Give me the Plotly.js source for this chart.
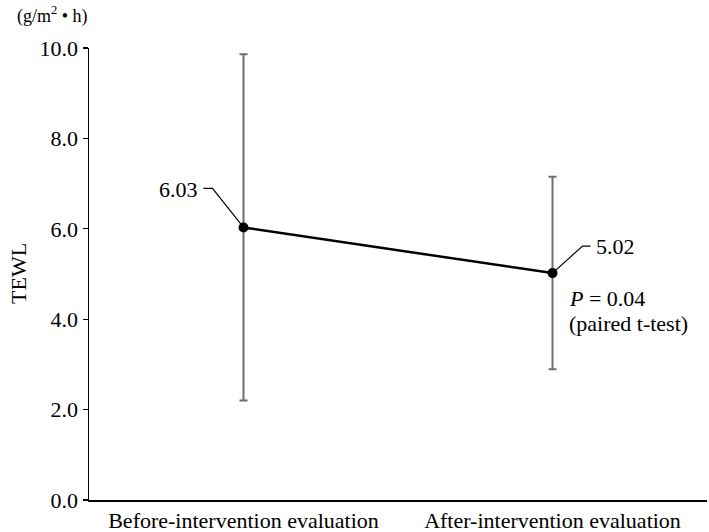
<!DOCTYPE html>
<html><head><meta charset="utf-8">
<script src="https://cdn.plot.ly/plotly-3.0.1.min.js"></script>
<style>body{margin:0;padding:0;background:#fff}#chart{width:709px;height:532px}</style>
</head><body><div id="chart"></div>
<script>
const categories = ["Before-intervention evaluation", "After-intervention evaluation"];
const means = [6.03, 5.02];
const sds = [3.83, 2.13];
const valueLabels = ["6.03", "5.02"];
const yTicks = [0, 2, 4, 6, 8, 10];
const yTickLabels = ["0.0", "2.0", "4.0", "6.0", "8.0", "10.0"];

const FAM = "'Liberation Serif', 'Times New Roman', Times, serif";
const font = {family: FAM, size: 22, color: "#000"};

const traces = [{
  type: "scatter", mode: "lines+markers",
  x: [0, 1], y: means,
  line: {color: "#000", width: 2.5},
  marker: {color: "#000", size: 10},
  error_y: {type: "data", array: sds, visible: true, color: "#6e6e6e", thickness: 2, width: 4},
  hoverinfo: "skip"
}];

const shapes = [
  {type: "path", xref: "x", yref: "y", xsizemode: "pixel", ysizemode: "pixel",
   xanchor: 0, yanchor: means[0], path: "M 0 0 L -31 39 L -40 39",
   line: {color: "#000", width: 1.2}},
  {type: "path", xref: "x", yref: "y", xsizemode: "pixel", ysizemode: "pixel",
   xanchor: 1, yanchor: means[1], path: "M 0 0 L 30 27 L 38 27",
   line: {color: "#000", width: 1.2}}
];

const annotations = [
  {x: 0, y: means[0], xref: "x", yref: "y", text: valueLabels[0], showarrow: false,
   xanchor: "right", yanchor: "middle", xshift: -44, yshift: 38, font: font},
  {x: 1, y: means[1], xref: "x", yref: "y", text: valueLabels[1], showarrow: false,
   xanchor: "left", yanchor: "middle", xshift: 41, yshift: 27, font: font},
  {x: 1, y: means[1], xref: "x", yref: "y", text: "<i>P</i> = 0.04", showarrow: false,
   xanchor: "left", yanchor: "middle", xshift: 14, yshift: -25, font: font},
  {x: 1, y: means[1], xref: "x", yref: "y", text: "(paired t-test)", showarrow: false,
   xanchor: "left", yanchor: "middle", xshift: 14, yshift: -50, font: font},
  {x: 0, y: 0.5, xref: "paper", yref: "paper", text: "TEWL", showarrow: false,
   textangle: -90, xanchor: "center", yanchor: "middle", xshift: -71, font: font},
  {x: 0, y: 1, xref: "paper", yref: "paper", text: "(g/m<sup>2</sup> • h)", showarrow: false,
   xanchor: "left", yanchor: "middle", xshift: -74, yshift: 33, font: {family: FAM, size: 18, color: "#000"}}
];

const layout = {
  width: 709, height: 532,
  margin: {l: 89, r: 2, t: 48, b: 32},
  paper_bgcolor: "#fff", plot_bgcolor: "#fff",
  showlegend: false,
  font: font,
  xaxis: {
    range: [-0.5, 1.5], tickvals: [0, 1], ticktext: categories,
    showgrid: false, zeroline: false, showline: true, linecolor: "#000", linewidth: 1.5,
    ticks: "", tickfont: font
  },
  yaxis: {
    range: [0, 10], tickvals: yTicks, ticktext: yTickLabels,
    showgrid: false, zeroline: false, showline: true, linecolor: "#000", linewidth: 1.5,
    ticks: "outside", ticklen: 5, tickcolor: "#000", tickwidth: 1.2, tickfont: font
  },
  shapes: shapes,
  annotations: annotations
};

Plotly.newPlot("chart", traces, layout, {staticPlot: true, displayModeBar: false});
</script></body></html>
